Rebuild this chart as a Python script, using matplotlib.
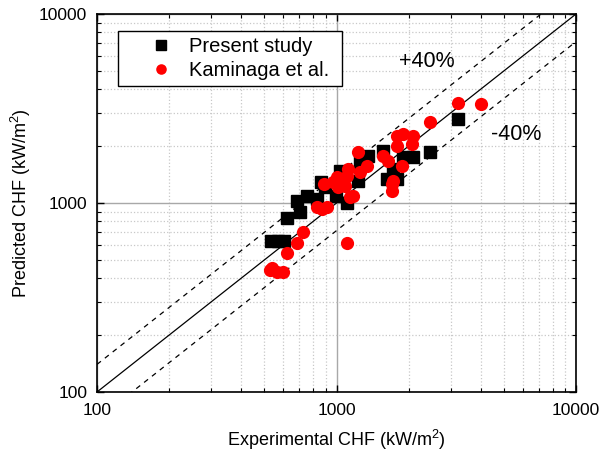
import matplotlib
matplotlib.use("Agg")
import matplotlib.pyplot as plt
import numpy as np

plt.rcParams['font.family'] = ['Liberation Sans', 'DejaVu Sans']
plt.rcParams['mathtext.default'] = 'regular'

# Present study (experimental, predicted) in kW/m2
present_exp = [531, 568, 603, 620, 703, 683, 752, 828, 861, 895, 995, 1107, 1034,
               1231, 1255, 1356, 1567, 1726, 1628, 1794, 1900, 2093, 2466, 3231]
present_pred = [633, 633, 633, 828, 891, 1019, 1083, 1044, 1285, 1208, 1083, 1006, 1469,
                1301, 1640, 1765, 1876, 1506, 1333, 1333, 1743, 1743, 1853, 2773]

# Kaminaga et al.
kam_exp = [3231, 3998, 2466, 1900, 1794, 2093, 2073, 1794, 1567, 1644, 1882, 1231, 1343,
           1117, 1107, 1255, 1005, 967, 1086, 1015, 886, 1173, 1139, 828, 870, 912,
           1709, 1709, 1726, 724, 683, 620, 1107, 526, 562, 596, 536]
kam_pred = [3372, 3330, 2674, 2309, 2253, 2253, 2043, 1994, 1765, 1660, 1562, 1853, 1562,
            1506, 1382, 1451, 1366, 1285, 1223, 1208, 1254, 1083, 1070, 958, 924, 958,
            1254, 1151, 1301, 706, 617, 546, 617, 444, 433, 433, 455]

line_x = [100, 10000]
upper_factor = 1.4
lower_factor = 1 / 1.4

fig = plt.figure(figsize=(6.03, 4.58), dpi=100)
ax = fig.add_axes([97/603, (458-392)/458, (576-97)/603, (392-14)/458])
ax.set_xscale('log')
ax.set_yscale('log')
ax.set_xlim(100, 10000)
ax.set_ylim(100, 10000)

ax.grid(which='major', color='#a8a8a8', linestyle='-', linewidth=1.0)
ax.grid(which='minor', color='#c8c8c8', linestyle=':', linewidth=0.9)
ax.set_axisbelow(True)

lx = np.array(line_x, dtype=float)
ax.plot(lx, lx, color='black', linewidth=0.9, zorder=2)
ax.plot(lx, lx * upper_factor, color='black', linewidth=0.9, linestyle=(0, (4, 4)), zorder=2)
ax.plot(lx, lx * lower_factor, color='black', linewidth=0.9, linestyle=(0, (4, 4)), zorder=2)

ax.plot(present_exp, present_pred, linestyle='none', marker='s', markersize=8.5,
        color='black', label='Present study', zorder=3)
ax.plot(kam_exp, kam_pred, linestyle='none', marker='o', markersize=9.5,
        color='#ff0000', markeredgewidth=0, label='Kaminaga et al.', zorder=4)

ax.text(2373, 5633, '+40%', fontsize=15.5, ha='center', va='center')
ax.text(5603, 2308, '-40%', fontsize=15.5, ha='center', va='center')

ax.tick_params(which='both', direction='in', top=True, right=True, labelsize=12.5)
ax.tick_params(which='major', length=5, width=1)
ax.tick_params(which='minor', length=3, width=0.8)
ax.tick_params(axis='y', which='major', pad=7)
ax.tick_params(axis='x', which='major', pad=8)
ax.xaxis.set_minor_formatter(matplotlib.ticker.NullFormatter())
ax.yaxis.set_minor_formatter(matplotlib.ticker.NullFormatter())
ax.xaxis.set_major_formatter(matplotlib.ticker.FuncFormatter(lambda v, p: f'{int(round(v))}'))
ax.yaxis.set_major_formatter(matplotlib.ticker.FuncFormatter(lambda v, p: f'{int(round(v))}'))
for s in ax.spines.values():
    s.set_linewidth(1.2)

ax.set_xlabel('Experimental CHF (kW/m$^2$)', fontsize=13, labelpad=7)
ax.set_ylabel('Predicted CHF (kW/m$^2$)', fontsize=13, labelpad=4)

leg = ax.legend(loc='upper left', bbox_to_anchor=((118-97)/479, 0.5, (342-118)/479, 0.455),
                mode='expand', fontsize=14.5, markerscale=0.8,
                frameon=True, fancybox=False, edgecolor='black', framealpha=1,
                borderpad=0.3, handletextpad=-0.45, handlelength=3.7, labelspacing=0.25,
                borderaxespad=0)
leg.get_frame().set_linewidth(1.0)

fig.savefig('out.png', dpi=100)
